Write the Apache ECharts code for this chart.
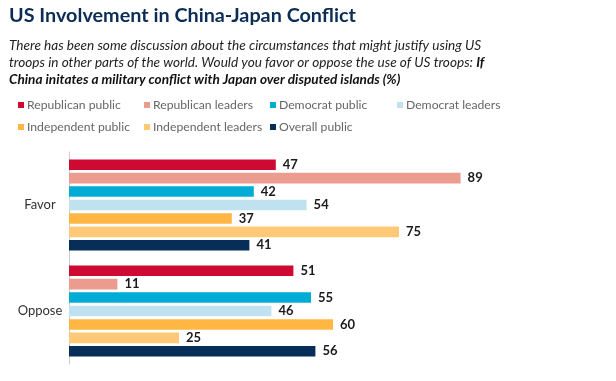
<!DOCTYPE html>
<html><head><meta charset="utf-8">
<script src="https://cdn.jsdelivr.net/npm/echarts@6/dist/echarts.min.js"></script>
<style>html,body{margin:0;padding:0;background:#fff}#c{width:616px;height:381px}</style>
</head><body><div id="c"></div>
<script>
const categories = ['Favor', 'Oppose'];
const seriesNames = ['Republican public', 'Republican leaders', 'Democrat public', 'Democrat leaders', 'Independent public', 'Independent leaders', 'Overall public'];
const republicanPublic = [47, 51];
const republicanLeaders = [89, 11];
const democratPublic = [42, 55];
const democratLeaders = [54, 46];
const independentPublic = [37, 60];
const independentLeaders = [75, 25];
const overallPublic = [41, 56];
const seriesValues = [republicanPublic, republicanLeaders, democratPublic, democratLeaders, independentPublic, independentLeaders, overallPublic];
const colors = ['#CE0A32', '#EB9C8E', '#00ACD5', '#C0E2F0', '#FFB643', '#FFC977', '#072E58'];

const FONT = 'Lato';
const legendPos = [[18,99],[144,99],[270,99],[397,99],[18,121],[144,121],[270,121]];
const legends = seriesNames.map((n, i) => ({
  data: [n], left: legendPos[i][0], top: legendPos[i][1], icon: 'rect', itemWidth: 6, itemHeight: 6,
  padding: 0, selectedMode: false,
  textStyle: { color: '#666', fontSize: 12.2, fontFamily: FONT, padding: [0,0,0,-2] }
}));

const chart = echarts.init(document.getElementById('c'), null, { renderer: 'canvas' });
chart.setOption({
  animation: false,
  color: colors,
  title: {
    text: 'US Involvement in China-Japan Conflict',
    left: 9, top: 6, padding: 0,
    textStyle: { color: '#0B2D55', fontSize: 19.8, fontWeight: 'bold', fontFamily: FONT },
    subtext: '{i|There has been some discussion about the circumstances that might justify using US}\n{i|troops in other parts of the world. Would you favor or oppose the use of US troops: }{b|If}\n{b|China initates a military conflict with Japan over disputed islands (%)}',
    itemGap: 11,
    subtextStyle: {
      lineHeight: 17,
      rich: {
        i: { fontStyle: 'italic', fontSize: 13.6, color: '#222', fontFamily: FONT, lineHeight: 17 },
        b: { fontStyle: 'italic', fontWeight: 'bold', fontSize: 13.6, color: '#111', fontFamily: FONT, lineHeight: 17 }
      }
    }
  },
  legend: legends,
  grid: { left: 69, top: 152, width: 440, height: 212, containLabel: false },
  xAxis: { type: 'value', min: 0, max: 100, show: false },
  yAxis: {
    type: 'category', data: categories, inverse: true,
    axisLine: { show: true, lineStyle: { color: '#ccc', width: 1 } },
    axisTick: { show: false },
    axisLabel: { align: 'center', margin: 29, color: '#333', fontSize: 13, fontFamily: FONT }
  },
  series: seriesNames.map((n, i) => ({
    name: n, type: 'bar', data: seriesValues[i],
    barCategoryGap: '14%', barGap: '27%',
    label: { show: true, position: 'right', distance: 7, color: '#1a1a1a', fontWeight: 'bold', fontSize: 13, fontFamily: FONT }
  }))
});
</script></body></html>
